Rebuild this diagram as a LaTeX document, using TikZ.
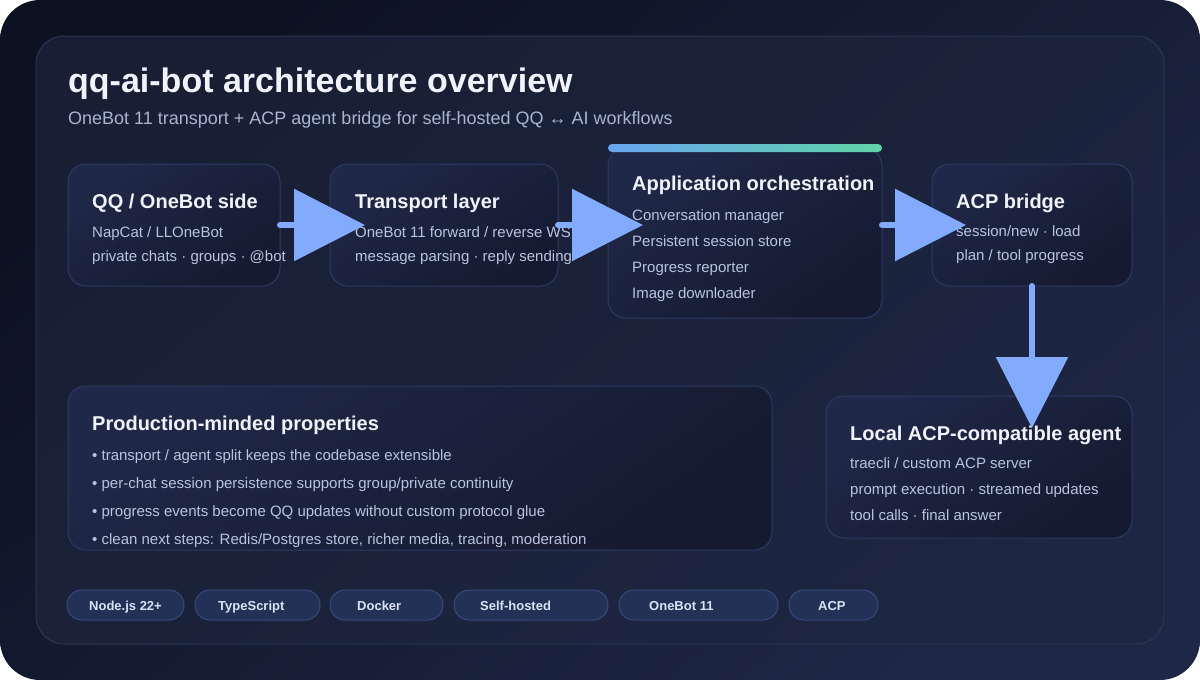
\documentclass[tikz,border=0pt]{standalone}
\usepackage{fontspec}
\setmainfont{Liberation Sans}
\usetikzlibrary{arrows.meta,calc}
\definecolor{outerA}{RGB}{12,18,34}
\definecolor{outerB}{RGB}{30,39,70}
\definecolor{panelA}{RGB}{24,31,52}
\definecolor{panelB}{RGB}{29,38,66}
\definecolor{panelLine}{RGB}{44,54,80}
\definecolor{boxA}{RGB}{31,40,72}
\definecolor{boxB}{RGB}{20,26,48}
\definecolor{boxLine}{RGB}{45,59,99}
\definecolor{titleC}{RGB}{241,244,252}
\definecolor{bodyC}{RGB}{186,196,222}
\definecolor{subC}{RGB}{168,180,210}
\definecolor{arrowC}{RGB}{130,170,255}
\definecolor{barL}{RGB}{104,166,240}
\definecolor{barR}{RGB}{96,212,168}
\definecolor{pillF}{RGB}{35,49,86}
\definecolor{pillLine}{RGB}{56,74,122}
\definecolor{pillT}{RGB}{218,226,244}
\begin{document}
\begin{tikzpicture}[x=1pt,y=-1pt,
  box/.style={draw=boxLine,line width=1pt,rounded corners=18pt,top color=boxA,bottom color=boxB,shading angle=35,anchor=north west,inner sep=0pt,outer sep=0pt},
  pill/.style={draw=pillLine,line width=1pt,rounded corners=15pt,fill=pillF,anchor=north west,minimum height=30pt,inner sep=0pt,outer sep=0pt},
  ttl/.style={font=\bfseries\fontsize{20}{24}\selectfont,text=titleC,anchor=base west,inner sep=0pt},
  txt/.style={font=\fontsize{15}{18}\selectfont,text=bodyC,anchor=base west,inner sep=0pt},
  ptxt/.style={font=\bfseries\fontsize{13}{16}\selectfont,text=pillT,anchor=base west,inner sep=0pt},
  flow/.style={draw=arrowC,line width=6pt,line cap=round,-{Triangle[length=71pt,width=71pt]}}]
\useasboundingbox (0,0) rectangle (1200,680);
\fill[white] (0,0) rectangle (1200,680);
\path[rounded corners=40pt,top color=outerA,bottom color=outerB,shading angle=40] (0,0) rectangle (1200,680);
\path[draw=panelLine,line width=1pt,rounded corners=28pt,top color=panelA,bottom color=panelB,shading angle=40] (36,36) rectangle (1164,644);
% header
\node[font=\bfseries\fontsize{34}{40}\selectfont,text=titleC,anchor=base west,inner sep=0pt] (title) at (68,92) {qq-ai-bot architecture overview};
\node[font=\fontsize{18}{22}\selectfont,text=subC,anchor=base west,inner sep=0pt] (subtitle) at (68,124) {OneBot 11 transport + ACP agent bridge for self-hosted QQ ↔ AI workflows};
% boxes
\node[box,minimum width=212pt,minimum height=122pt] (qq) at (68,164) {};
\node[box,minimum width=228pt,minimum height=122pt] (tr) at (330,164) {};
\node[box,minimum width=274pt,minimum height=170pt] (app) at (608,148) {};
\node[box,minimum width=200pt,minimum height=122pt] (acp) at (932,164) {};
\node[box,minimum width=704pt,minimum height=164pt] (prod) at (68,386) {};
\node[box,minimum width=306pt,minimum height=142pt] (agent) at (826,396) {};
\path[left color=barL,right color=barR,rounded corners=4pt] (608,144) rectangle (882,152);
% texts
\node[ttl] (qqT) at (92,208) {QQ / OneBot side};
\node[txt] (qq1) at (92,237) {NapCat / LLOneBot};
\node[txt] (qq2) at (92,261) {private chats · groups · @bot};
\node[ttl] (trT) at (355,208) {Transport layer};
\node[txt] (tr1) at (355,237) {OneBot 11 forward / reverse WS};
\node[txt] (tr2) at (355,261) {message parsing · reply sending};
\node[ttl] (appT) at (632,190) {Application orchestration};
\node[txt] (app1) at (632,220) {Conversation manager};
\node[txt] (app2) at (632,246) {Persistent session store};
\node[txt] (app3) at (632,272) {Progress reporter};
\node[txt] (app4) at (632,298) {Image downloader};
\node[ttl] (acpT) at (956,208) {ACP bridge};
\node[txt] (acp1) at (956,236) {session/new · load};
\node[txt] (acp2) at (956,260) {plan / tool progress};
\node[ttl] (prodT) at (92,430) {Production-minded properties};
\node[txt] (prod1) at (92,460) {• transport / agent split keeps the codebase extensible};
\node[txt] (prod2) at (92,488) {• per-chat session persistence supports group/private continuity};
\node[txt] (prod3) at (92,516) {• progress events become QQ updates without custom protocol glue};
\node[txt] (prod4) at (92,544) {• clean next steps: Redis/Postgres store, richer media, tracing, moderation};
\node[ttl] (agentT) at (850,440) {Local ACP-compatible agent};
\node[txt] (agent1) at (850,468) {traecli / custom ACP server};
\node[txt] (agent2) at (850,494) {prompt execution · streamed updates};
\node[txt] (agent3) at (850,520) {tool calls · final answer};
% pills
\node[pill,minimum width=117pt] (p1) at (67,590) {};
\node[pill,minimum width=125pt] (p2) at (195,590) {};
\node[pill,minimum width=113pt] (p3) at (330,590) {};
\node[pill,minimum width=154pt] (p4) at (454,590) {};
\node[pill,minimum width=159pt] (p5) at (619,590) {};
\node[pill,minimum width=89pt] (p6) at (789,590) {};
\node[ptxt] (p1t) at (89,610) {Node.js 22+};
\node[ptxt] (p2t) at (218,610) {TypeScript};
\node[ptxt] (p3t) at (357,610) {Docker};
\node[ptxt] (p4t) at (480,610) {Self-hosted};
\node[ptxt] (p5t) at (649,610) {OneBot 11};
\node[ptxt] (p6t) at (818,610) {ACP};
% connectors
\draw[flow] (qq.east) -- ($(tr.west)+(35,0)$);
\draw[flow] (tr.east) -- ($(app.west |- tr.east)+(35,0)$);
\draw[flow] (app.east |- acp.west) -- ($(acp.west)+(34,0)$);
\draw[flow] (acp.south) -- ($(acp.south |- agent.north)+(0,32)$);
\end{tikzpicture}
\end{document}
